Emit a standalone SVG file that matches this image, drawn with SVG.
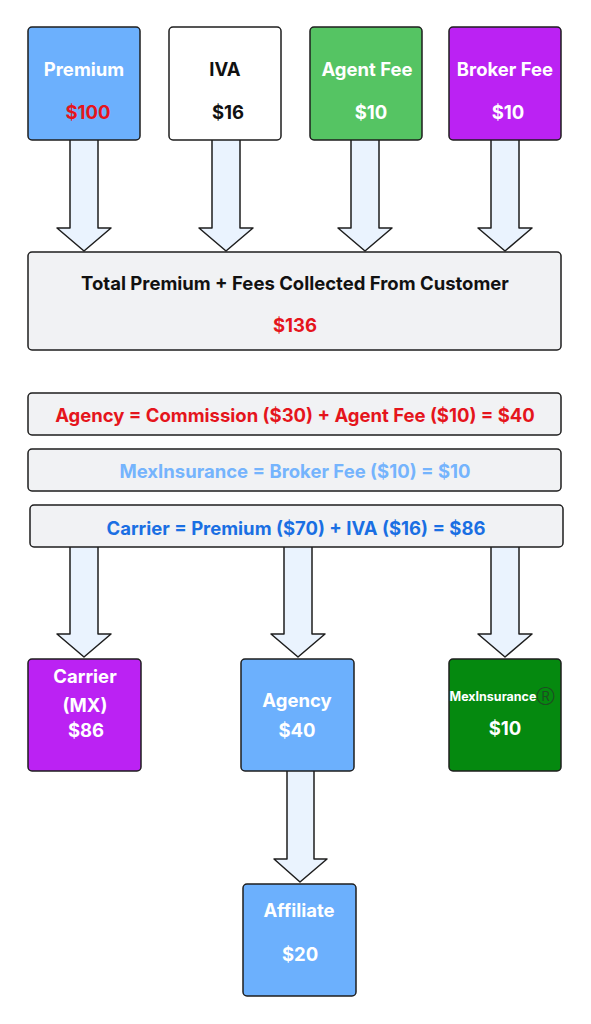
<svg xmlns="http://www.w3.org/2000/svg" width="591" height="1024" viewBox="0 0 591 1024">
<style>
.box{stroke:#1e1e1e;stroke-width:1.5}
.arr{fill:#eaf3fe;stroke:#1e1e1e;stroke-width:1.5;stroke-linejoin:round}
text{font-family:Inter,"Noto Sans","Liberation Sans",sans-serif;font-weight:700;text-anchor:middle}
.w{fill:#ffffff;font-size:18.5px}
.k{fill:#111111;font-size:18.5px}
.r{fill:#e5151c}
.f{font-size:18.5px}
</style>
<rect width="591" height="1024" fill="#ffffff"/>
<g id="connectors">
<path class="arr" d="M70,138 L70,228 L57,228 L84,251 L111,228 L98,228 L98,138 Z"/>
<path class="arr" d="M212,138 L212,228 L199,228 L226,251 L253,228 L240,228 L240,138 Z"/>
<path class="arr" d="M351,138 L351,228 L338,228 L365,251 L392,228 L379,228 L379,138 Z"/>
<path class="arr" d="M491,138 L491,228 L478,228 L505,251 L532,228 L519,228 L519,138 Z"/>
<path class="arr" d="M70,545 L70,634 L57,634 L84,657 L111,634 L98,634 L98,545 Z"/>
<path class="arr" d="M284,545 L284,634 L271,634 L298,657 L325,634 L312,634 L312,545 Z"/>
<path class="arr" d="M491,545 L491,634 L478,634 L505,657 L532,634 L519,634 L519,545 Z"/>
<path class="arr" d="M287,769 L287,859 L274,859 L300,882 L327,859 L314,859 L314,769 Z"/>
</g>
<g id="premium">
<rect class="box" x="28" y="27" width="112" height="113" rx="4" fill="#6cb0fd"/>
<text class="w" x="84" y="76">Premium</text>
<text class="f r" x="88" y="119">$100</text>
</g>
<g id="iva">
<rect class="box" x="169" y="27" width="112" height="113" rx="4" fill="#ffffff"/>
<text class="k" x="225" y="76">IVA</text>
<text class="k" x="228" y="119">$16</text>
</g>
<g id="agent-fee">
<rect class="box" x="310" y="27" width="112" height="113" rx="4" fill="#55c463"/>
<text class="w" x="367" y="76">Agent Fee</text>
<text class="w" x="371" y="119">$10</text>
</g>
<g id="broker-fee">
<rect class="box" x="449" y="27" width="112" height="113" rx="4" fill="#bb22f3"/>
<text class="w" x="505" y="76">Broker Fee</text>
<text class="w" x="508" y="119">$10</text>
</g>
<g id="total">
<rect class="box" x="28" y="252" width="533" height="98" rx="4" fill="#f1f2f4"/>
<text class="k" x="295" y="290">Total Premium + Fees Collected From Customer</text>
<text class="f r" x="295" y="332">$136</text>
</g>
<g id="agency-split">
<rect class="box" x="28" y="393" width="533" height="42" rx="4" fill="#f1f2f4"/>
<text class="f r" x="295" y="422">Agency = Commission ($30) + Agent Fee ($10) = $40</text>
</g>
<g id="mex-split">
<rect class="box" x="28" y="449" width="533" height="42" rx="4" fill="#f1f2f4"/>
<text class="f" x="295" y="478" fill="#75b4fd">MexInsurance = Broker Fee ($10) = $10</text>
</g>
<g id="carrier-split">
<rect class="box" x="30" y="505" width="533" height="42" rx="4" fill="#f1f2f4"/>
<text class="f" x="296" y="535" fill="#1a6fe3">Carrier = Premium ($70) + IVA ($16) = $86</text>
</g>
<g id="carrier">
<rect class="box" x="28" y="659" width="113" height="112" rx="4" fill="#bb22f3"/>
<text class="w" x="85" y="683">Carrier</text>
<text class="w" x="85" y="712">(MX)</text>
<text class="w" x="86" y="737">$86</text>
</g>
<g id="agency">
<rect class="box" x="241" y="659" width="113" height="112" rx="4" fill="#6cb0fd"/>
<text class="w" x="297" y="707">Agency</text>
<text class="w" x="297" y="737">$40</text>
</g>
<g id="mexinsurance">
<rect class="box" x="449" y="659" width="112" height="112" rx="4" fill="#05890f"/>
<text x="502" y="701" fill="#ffffff" font-size="12.5">MexInsurance<tspan fill="#1e4d22" font-size="13" font-weight="400">Ⓡ</tspan></text>
<text class="w" x="505" y="735">$10</text>
</g>
<g id="affiliate">
<rect class="box" x="243" y="884" width="113" height="112" rx="4" fill="#6cb0fd"/>
<text class="w" x="299" y="917">Affiliate</text>
<text class="w" x="300" y="961">$20</text>
</g>
</svg>
